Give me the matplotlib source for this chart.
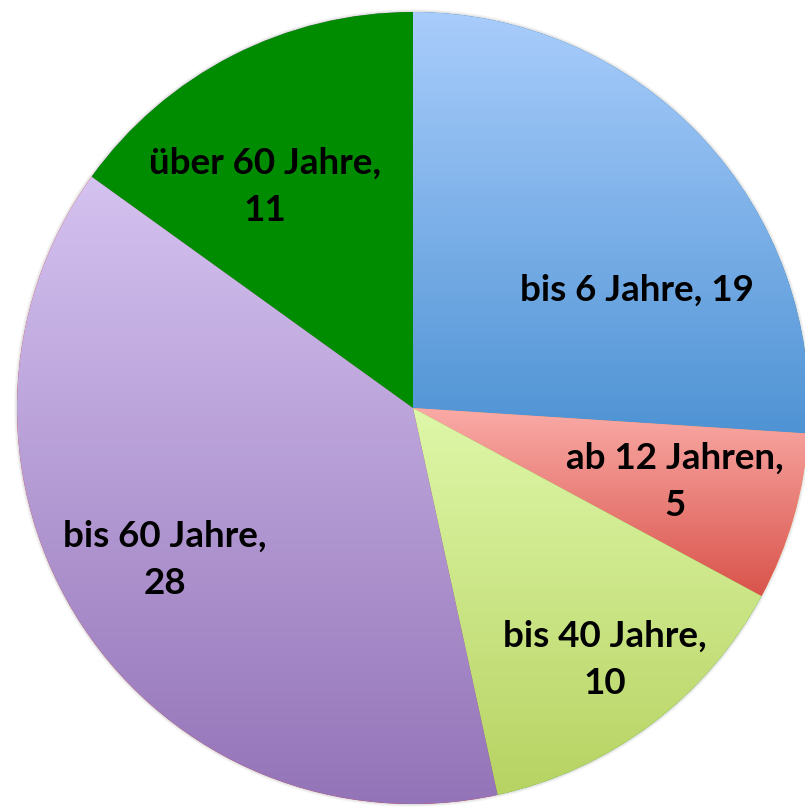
import numpy as np
import matplotlib
matplotlib.use("Agg")
import matplotlib.pyplot as plt
from matplotlib.colors import LinearSegmentedColormap

# Data
labels = ["bis 6 Jahre", "ab 12 Jahren", "bis 40 Jahre", "bis 60 Jahre", "über 60 Jahre"]
values = [19, 5, 10, 28, 11]
label_text = ["bis 6 Jahre, 19", "ab 12 Jahren,\n5", "bis 40 Jahre,\n10",
              "bis 60 Jahre,\n28", "über 60 Jahre,\n11"]

# gradient top/bottom colours per slice
grad_top = ["#a9cdfc", "#faaba7", "#def7a9", "#d4c2f0", "#008c00"]
grad_bottom = ["#4f93d4", "#d9534b", "#b7d362", "#9474b8", "#008c00"]

# label positions in pixel coords (x, y from top)
label_pos = [(637, 290), (675, 482), (605, 660), (165, 560), (265, 187)]

W, H = 805, 807
cx, cy, R = 413, 408, 396

fig = plt.figure(figsize=(W / 100, H / 100), dpi=100)
ax = fig.add_axes([0, 0, 1, 1])

# soft shadow around the rim
for i, a in enumerate([0.05, 0.04, 0.03]):
    circ = plt.Circle((cx, H - cy), R + 1 + i, color="#000000", alpha=a, lw=0)
    ax.add_patch(circ)

wedges, _ = ax.pie(values, startangle=90, counterclock=False,
                   center=(cx, H - cy), radius=R, frame=True,
                   wedgeprops=dict(linewidth=0, antialiased=True))
ax.set_xlim(0, W)
ax.set_ylim(0, H)
ax.set_aspect("equal")
ax.axis("off")

# vertical gradient fill clipped to each wedge
grad = np.linspace(0, 1, 256).reshape(-1, 1)
for w, c0, c1 in zip(wedges, grad_top, grad_bottom):
    bb = w.get_path().get_extents(w.get_patch_transform())
    cmap = LinearSegmentedColormap.from_list("g", [c1, c0])
    im = ax.imshow(grad, cmap=cmap, origin="lower", aspect="auto",
                   extent=[bb.x0, bb.x1, bb.y0, bb.y1], zorder=2,
                   interpolation="bilinear")
    im.set_clip_path(w)

for txt, (x, y) in zip(label_text, label_pos):
    ax.text(x, H - y, txt, ha="center", va="center", fontsize=26.5,
            fontweight="bold", family="Lato", color="black",
            linespacing=1.5, zorder=5)

fig.savefig("out.png", dpi=100, facecolor="white")
